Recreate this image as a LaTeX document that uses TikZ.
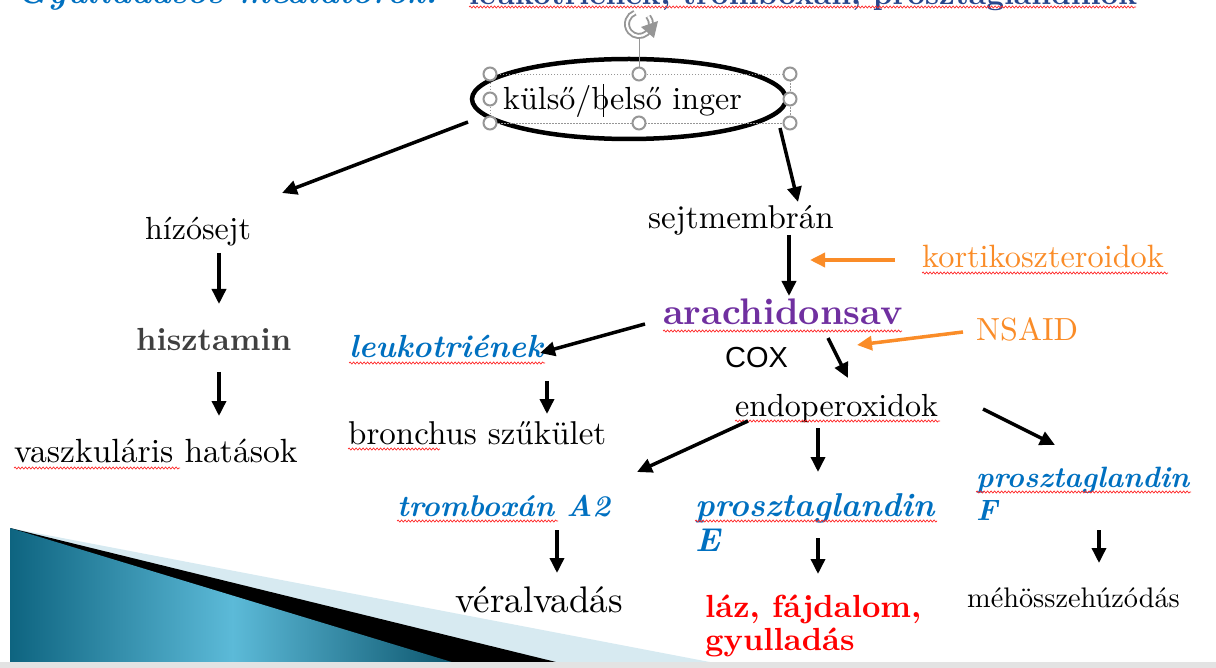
\documentclass[tikz,border=0pt]{standalone}
\usepackage{fontspec}
\setmainfont{lmroman10}[Extension=.otf, UprightFont=*-regular, BoldFont=*-bold, ItalicFont=*-italic, BoldItalicFont=*-bolditalic]
\newfontfamily\arialfont{Liberation Sans}
\usetikzlibrary{arrows.meta,shapes.geometric,decorations.pathmorphing}
\definecolor{myblue}{RGB}{0,112,192}
\definecolor{navy}{RGB}{40,70,140}
\definecolor{mypurple}{RGB}{112,48,160}
\definecolor{myorange}{RGB}{250,140,40}
\definecolor{hgray}{RGB}{64,64,64}
\definecolor{tealA}{RGB}{14,100,128}
\definecolor{tealB}{RGB}{92,186,216}
\definecolor{lblue}{RGB}{215,234,241}
\definecolor{handlegray}{RGB}{150,150,150}
\newcommand\fsz{\fontsize{32}{35}\selectfont}
\newcommand\fsx[1]{\fontsize{#1}{35}\selectfont}
\begin{document}
\begin{tikzpicture}[x=1pt,y=-1pt,
  lbl/.style={anchor=base west, inner sep=0pt, font=\fsz},
  bi/.style={font=\fsz\bfseries\itshape, myblue},
  arr/.style={line width=3.5pt, -{Triangle[length=15pt,width=14pt]}},
  oarr/.style={line width=3.5pt, myorange, -{Triangle[length=15pt,width=14pt]}},
  squig/.style={red!85, line width=0.7pt, decorate, decoration={snake, amplitude=1pt, segment length=3.5pt}},
  handle/.style={circle, draw=handlegray, fill=white, line width=2pt, minimum size=13pt, inner sep=0pt},
]
\useasboundingbox (0,0) rectangle (1216,668);
\clip (0,0) rectangle (1216,668);

% bottom-left decoration
\fill[lblue] (10,528) -- (715,663) -- (10,663) -- cycle;
\fill[black] (10,528) -- (560,663) -- (10,663) -- cycle;
\shade[left color=tealA, right color=tealA!85!black, middle color=tealB] (10,528) -- (455,663) -- (10,663) -- cycle;
\fill[gray!22] (0,662) rectangle (1216,668);

% title (cut off at the top edge)
\node[anchor=base west, inner sep=0pt, myblue, font=\fontsize{34}{38}\selectfont\bfseries\itshape] (t1) at (17,3.5) {Gyulladásos mediátorok:};
\node[anchor=base west, inner sep=0pt, navy, font=\fontsize{31}{34}\selectfont\bfseries] (t2) at (469,5) {leukotriének, tromboxán, prosztaglandinok};

% ellipse with selection frame
\node[ellipse, draw, line width=4.5pt, minimum width=314pt, minimum height=80pt, inner sep=0pt] (ell) at (629,99) {};
\draw[handlegray, dash pattern=on 1.5pt off 1.5pt, line width=0.8pt] (490,74) rectangle (790,123);
\draw[handlegray, line width=1pt] (639,38) -- (639,74);
\draw[handlegray, line width=6pt] (639,24) ++(-40:12) arc[start angle=-40, end angle=250, radius=12];
\draw[white, line width=2.2pt] (639,24) ++(-40:12) arc[start angle=-40, end angle=250, radius=12];
\fill[handlegray] (641,27) -- (658,21) -- (654,38) -- cycle;
\node[lbl] (kb) at (503,110) {külső/belső inger};
\draw[line width=1pt] (603,84) -- (603,117);
\foreach \hx/\hy/\hn in {490/74/h1,639/74/h2,790/74/h3,490/99/h4,790/99/h5,490/123/h6,639/123/h7,790/123/h8}
  \node[handle] (\hn) at (\hx,\hy) {};

% labels
\node[lbl] (hizo) at (145,240) {hízósejt};
\node[lbl, font=\fsx{33}] (sejt) at (648,229) {sejtmembrán};
\node[lbl, myorange, font=\fsx{32.3}] (kort) at (922,268) {kortikoszteroidok};
\node[lbl, mypurple, font=\fontsize{37}{40}\selectfont\bfseries] (arach) at (663,325) {arachidonsav};
\node[lbl, hgray, font=\fsz\bfseries] (hiszt) at (136,351) {hisztamin};
\node[lbl, bi] (leuko) at (349,358) {leukotriének};
\node[lbl, myorange] (nsaid) at (976,341) {NSAID};
\node[lbl, font=\fontsize{29}{32}\selectfont\arialfont] (cox) at (725,368) {COX};
\node[lbl] (endo) at (735,416) {endoperoxidok};
\node[lbl, font=\fsx{33}] (bronch) at (348,444) {bronchus szűkület};
\node[lbl, font=\fsx{33.6}] (vasz) at (14,462) {vaszkuláris hatások};
\node[lbl, bi, font=\fontsize{29.4}{33}\selectfont\bfseries\itshape] (pgF) at (976,487) {\begin{tabular}[t]{@{}l@{}}prosztaglandin\\F\end{tabular}};
\node[lbl, bi, font=\fsx{30}\bfseries\itshape] (trombo) at (397,516) {tromboxán A2};
\node[lbl, bi, font=\fsx{33}\bfseries\itshape] (pgE) at (695,516) {\begin{tabular}[t]{@{}l@{}}prosztaglandin\\E\end{tabular}};
\node[lbl, font=\fontsize{28.3}{32}\selectfont] (meh) at (967,607) {méhösszehúzódás};
\node[lbl, font=\fsx{37}] (ver) at (455,612) {véralvadás};
\node[lbl, red, font=\fontsize{32}{33}\selectfont\bfseries] (laz) at (705,617) {\begin{tabular}[t]{@{}l@{}}láz, fájdalom,\\gyulladás\end{tabular}};

% spell-check squiggles
\draw[squig] (469,7) -- (1136,7);
\draw[squig] (922,273) -- (1168,273);
\draw[squig] (663,331) -- (902,331);
\draw[squig] (349,363) -- (545,363);
\draw[squig] (348,449) -- (440,449);
\draw[squig] (14,468) -- (180,468);
\draw[squig] (735,421) -- (940,421);
\draw[squig] (397,521) -- (558,521);
\draw[squig] (695,521) -- (937,521);
\draw[squig] (976,492) -- (1191,492);

% arrows
\draw[arr] ([shift={(-161,23)}]ell.center) -- ([shift={(137,-47)}]hizo.base west);
\draw[arr] ([shift={(151,29)}]ell.center) -- ([shift={(150,-27)}]sejt.base west);
\draw[arr] ([shift={(74,13)}]hizo.base west) -- ([shift={(83,-47)}]hiszt.base west);
\draw[arr] ([shift={(83,21)}]hiszt.base west) -- ([shift={(205,-46)}]vasz.base west);
\draw[arr] ([shift={(141,6)}]sejt.base west) -- ([shift={(126,-29)}]arach.base west);
\draw[oarr] ([shift={(-27,-8)}]kort.base west) -- ([shift={(162,31)}]sejt.base west);
\draw[arr] ([shift={(-18,-1)}]arach.base west) -- ([shift={(191,-5)}]leuko.base west);
\draw[oarr] ([shift={(-13,-9)}]nsaid.base west) -- ([shift={(194,20)}]arach.base west);
\draw[arr] ([shift={(165,13)}]arach.base west) -- ([shift={(113,-38)}]endo.base west);
\draw[arr] ([shift={(198,23)}]leuko.base west) -- ([shift={(199,-30)}]bronch.base west);
\draw[arr] ([shift={(13,5)}]endo.base west) -- ([shift={(240,-44)}]trombo.base west);
\draw[arr] ([shift={(83,12)}]endo.base west) -- ([shift={(123,-44)}]pgE.base west);
\draw[arr] ([shift={(248,-7)}]endo.base west) -- ([shift={(79,-42)}]pgF.base west);
\draw[arr] ([shift={(160,14)}]trombo.base west) -- ([shift={(102,-39)}]ver.base west);
\draw[arr] ([shift={(123,22)}]pgE.base west) -- ([shift={(113,-43)}]laz.base west);
\draw[arr] ([shift={(123,43)}]pgF.base west) -- ([shift={(132,-44)}]meh.base west);
\end{tikzpicture}
\end{document}
